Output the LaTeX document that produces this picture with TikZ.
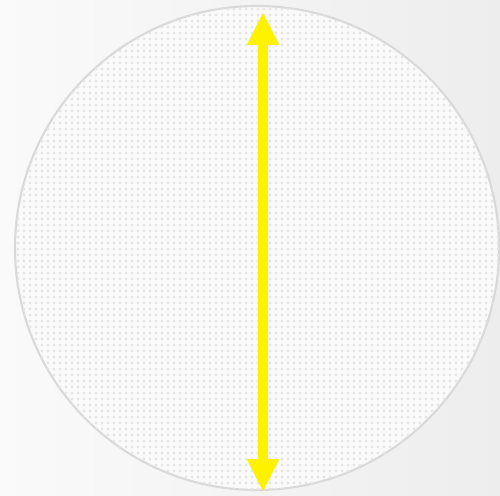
\documentclass[tikz,border=0pt]{standalone}
\usepackage{tikz}
\usetikzlibrary{arrows.meta,patterns.meta}

\tikzdeclarepattern{
  name=softdots,
  type=uncolored,
  bottom left={(-0.06,-0.06)},
  top right={(0.06,0.06)},
  tile size={(0.12,0.12)},
  code={\fill (0,0) circle (0.032);}
}

\begin{document}
\begin{tikzpicture}[
  disc/.style={circle, draw=gray!30, line width=1.2pt, fill=gray!4, minimum size=9.68cm, inner sep=0pt,
    postaction={pattern=softdots, pattern color=gray!20}},
  dia/.style={{Triangle[width=6mm, length=6.6mm]}-{Triangle[width=6mm, length=6.6mm]}, line width=2mm, draw=yellow}]
  % ---------------- backdrop
  \shade[left color=gray!4, right color=gray!14] (0,0) rectangle (10,9.9);
  \useasboundingbox (0,0) rectangle (10,9.9);
  % ---------------- plate
  \node[disc] (plate) at (5.14,4.94) {};
  % ---------------- diameter
  \coordinate (top) at (5.26,9.66);
  \coordinate (bot) at (5.26,0.06);
  \draw[dia] (top) -- (bot);
\end{tikzpicture}
\end{document}
